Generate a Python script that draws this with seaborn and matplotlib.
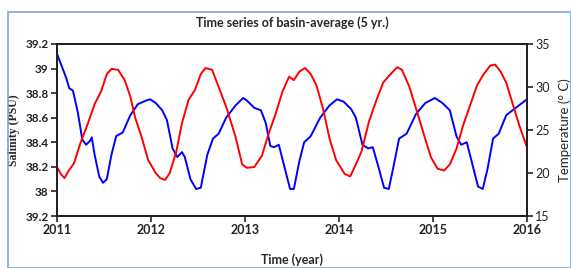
import numpy as np
import pandas as pd
import seaborn as sns
import matplotlib
import matplotlib.pyplot as plt
from matplotlib.patches import Rectangle

matplotlib.use("Agg")

# salinity (blue)
sal_time = [2011.00, 2011.05, 2011.10, 2011.13, 2011.17, 2011.22, 2011.27, 2011.31, 2011.35, 2011.37,
            2011.40, 2011.45, 2011.49, 2011.53, 2011.58, 2011.63, 2011.70, 2011.78, 2011.86, 2011.95,
            2011.99, 2012.05, 2012.12, 2012.17, 2012.23, 2012.28, 2012.33, 2012.36, 2012.42, 2012.48,
            2012.53, 2012.60, 2012.66, 2012.72, 2012.80, 2012.90, 2012.98, 2013.02, 2013.10, 2013.17,
            2013.22, 2013.27, 2013.31, 2013.36, 2013.42, 2013.48, 2013.52, 2013.58, 2013.63, 2013.70,
            2013.80, 2013.90, 2013.98, 2014.05, 2014.13, 2014.18, 2014.25, 2014.31, 2014.36, 2014.42,
            2014.48, 2014.53, 2014.58, 2014.64, 2014.72, 2014.82, 2014.92, 2015.02, 2015.10, 2015.18,
            2015.25, 2015.30, 2015.36, 2015.42, 2015.48, 2015.53, 2015.58, 2015.64, 2015.70, 2015.78,
            2015.88, 2015.95, 2016.00]
salinity = [39.12, 39.02, 38.92, 38.84, 38.82, 38.65, 38.42, 38.38, 38.41, 38.44,
            38.30, 38.12, 38.07, 38.10, 38.30, 38.45, 38.48, 38.62, 38.71, 38.74,
            38.75, 38.72, 38.66, 38.58, 38.35, 38.28, 38.32, 38.28, 38.10, 38.02,
            38.03, 38.30, 38.43, 38.47, 38.60, 38.70, 38.76, 38.74, 38.68, 38.66,
            38.56, 38.37, 38.36, 38.38, 38.20, 38.02, 38.02, 38.25, 38.40, 38.45,
            38.60, 38.70, 38.75, 38.73, 38.67, 38.60, 38.38, 38.35, 38.36, 38.20,
            38.03, 38.02, 38.20, 38.43, 38.47, 38.63, 38.72, 38.76, 38.72, 38.66,
            38.45, 38.38, 38.40, 38.22, 38.04, 38.02, 38.18, 38.43, 38.47, 38.62,
            38.68, 38.72, 38.75]

# temperature (red)
temp_time = [2011.00, 2011.04, 2011.08, 2011.12, 2011.18, 2011.25, 2011.33, 2011.40, 2011.47, 2011.53,
             2011.58, 2011.65, 2011.72, 2011.78, 2011.83, 2011.90, 2011.97, 2012.05, 2012.10, 2012.15,
             2012.20, 2012.27, 2012.33, 2012.40, 2012.47, 2012.53, 2012.58, 2012.65, 2012.72, 2012.80,
             2012.90, 2012.97, 2013.02, 2013.10, 2013.18, 2013.25, 2013.33, 2013.40, 2013.47, 2013.52,
             2013.58, 2013.64, 2013.70, 2013.76, 2013.83, 2013.90, 2013.97, 2014.06, 2014.12, 2014.18,
             2014.24, 2014.32, 2014.40, 2014.47, 2014.55, 2014.62, 2014.67, 2014.75, 2014.82, 2014.90,
             2014.98, 2015.05, 2015.12, 2015.18, 2015.25, 2015.32, 2015.40, 2015.47, 2015.54, 2015.61,
             2015.66, 2015.72, 2015.78, 2015.85, 2015.92, 2016.00]
temperature = [20.7, 19.9, 19.4, 20.2, 21.1, 23.5, 25.8, 28.0, 29.5, 31.5,
               32.1, 32.0, 30.8, 28.9, 26.5, 24.2, 21.5, 20.0, 19.4, 19.2,
               20.0, 22.5, 25.8, 28.5, 29.7, 31.5, 32.2, 32.0, 30.0, 27.7,
               24.2, 21.0, 20.6, 20.7, 22.0, 24.5, 27.0, 29.5, 31.2, 30.8,
               31.8, 32.2, 31.5, 30.2, 27.5, 24.0, 21.5, 19.9, 19.6, 21.0,
               22.5, 26.0, 28.5, 30.5, 31.5, 32.3, 32.0, 30.0, 27.5, 24.6,
               21.8, 20.5, 20.3, 21.0, 22.8, 25.5, 28.0, 30.2, 31.5, 32.5,
               32.6, 31.8, 30.5, 28.0, 25.5, 23.0]

year_ticks = [2011, 2012, 2013, 2014, 2015, 2016]
sal_ticks = [37.8, 38.0, 38.2, 38.4, 38.6, 38.8, 39.0, 39.2]
sal_labels = ["39.2", "38", "38.2", "38.4", "38.6", "38.8", "39", "39.2"]
temp_ticks = [15, 20, 25, 30, 35]

sns.set_style("ticks")
plt.rcParams["font.family"] = ["Lato", "DejaVu Sans"]

df_s = pd.DataFrame({"time": sal_time, "salinity": salinity})
df_t = pd.DataFrame({"time": temp_time, "temperature": temperature})

fig = plt.figure(figsize=(5.71, 2.68), dpi=100)
ax = fig.add_axes([0.0998, 0.194, 0.823, 0.642])
ax2 = ax.twinx()

sns.lineplot(data=df_s, x="time", y="salinity", color="#0000ff", lw=1.4, ax=ax)
sns.lineplot(data=df_t, x="time", y="temperature", color="#ff0000", lw=1.4, ax=ax2)

ax.set_xlim(2011, 2016)
ax.set_ylim(37.8, 39.2)
ax2.set_ylim(15, 35)

ax.set_xticks(year_ticks)
ax.set_xticklabels([str(y) for y in year_ticks], fontsize=9, fontweight="bold")
ax.set_yticks(sal_ticks)
ax.set_yticklabels(sal_labels, fontsize=8.5, fontweight="bold")
ax2.set_yticks(temp_ticks)
ax2.set_yticklabels([str(t) for t in temp_ticks], fontsize=9)

for a in (ax, ax2):
    for s in a.spines.values():
        s.set_linewidth(1.4)
        s.set_color("#222222")
    a.tick_params(direction="out", length=4, width=1.2, pad=2, colors="#222222")

ax.set_xlabel("Time (year)", fontsize=9, fontweight="bold", labelpad=12)
ax.set_ylabel("Salinity (PSU)", fontsize=8.5, fontweight="bold",
              family=["Liberation Serif", "DejaVu Serif"], va="center")
ax.yaxis.set_label_coords(-0.092, 0.5)
ax2.set_ylabel("Temperature (° C)", fontsize=9.5, labelpad=6)
ax.set_title("Time series of basin-average (5 yr.)", fontsize=9, fontweight="bold", pad=12)

# light blue frame around the figure
fig.patches.append(Rectangle((8 / 571, 0), 1 - 8 / 571, 1 - 12 / 268, transform=fig.transFigure,
                             fill=False, edgecolor="#7fa6d6", lw=1.2))

fig.savefig("out.png", dpi=100)
